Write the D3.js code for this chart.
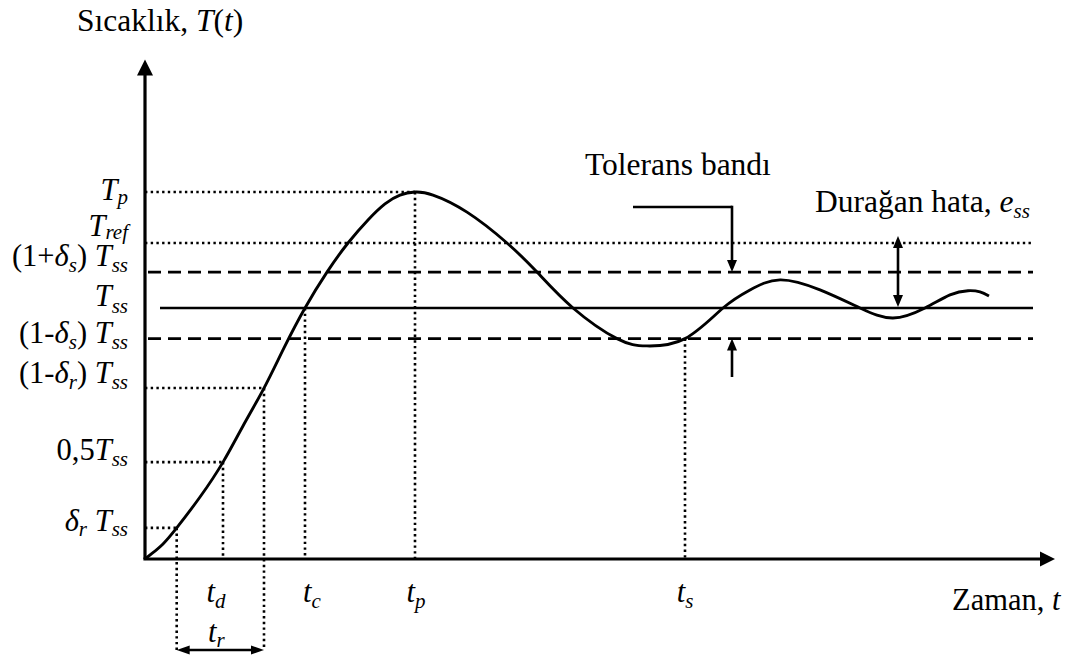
<!DOCTYPE html>
<html>
<head>
<meta charset="utf-8">
<script src="https://cdn.jsdelivr.net/npm/d3@7"></script>
<style>
  html, body { margin: 0; padding: 0; background: #fff; }
  svg { display: block; }
</style>
</head>
<body>
<svg id="chart" width="1079" height="662"></svg>
<script>
// Step response of a temperature control loop: time values (t) and temperature values (T, in units of Tss)

// characteristic levels on the temperature axis
const levelNames  = ["Tp", "Tref", "TssHigh", "Tss", "TssLow", "T90", "T50", "T10"];
const levelValues = [1.462, 1.259, 1.143, 1.0, 0.878, 0.681, 0.386, 0.124];

// characteristic instants on the time axis
const timeNames  = ["t10", "td", "t90", "tc", "tp", "ts"];
const timeValues = [0.317, 0.78, 1.19, 1.60, 2.70, 5.40];

// sampled response curve T(t)
const curveT    = [0, 0.07, 0.18, 0.317, 0.55, 0.78, 0.98, 1.19, 1.39, 1.60, 1.82, 2.03, 2.23, 2.40, 2.55, 2.70, 2.88, 3.22, 3.62, 3.92, 4.28, 4.72, 5.02, 5.40, 5.78, 6.05, 6.35, 6.75, 7.15, 7.48, 7.80, 8.05, 8.23, 8.35, 8.44];
const curveTemp = [0, 0.022, 0.060, 0.124, 0.247, 0.386, 0.530, 0.681, 0.841, 1.0, 1.143, 1.259, 1.351, 1.415, 1.450, 1.462, 1.450, 1.382, 1.259, 1.143, 1.0, 0.878, 0.849, 0.878, 1.0, 1.072, 1.112, 1.072, 1.0, 0.960, 1.0, 1.052, 1.069, 1.064, 1.048];

// axis extents and band end
const timeMax = 9.1, tempMax = 1.99, bandEnd = 8.88;

// tick label texts: [text, kind] with kind n = upright, i = italic, s = italic subscript
const levelLabels = [
  [["T","i"],["p","s"]],
  [["T","i"],["ref","s"]],
  [["(1+","n"],["δ","i"],["s","s"],[") ","n"],["T","i"],["ss","s"]],
  [["T","i"],["ss","s"]],
  [["(1-","n"],["δ","i"],["s","s"],[") ","n"],["T","i"],["ss","s"]],
  [["(1-","n"],["δ","i"],["r","s"],[") ","n"],["T","i"],["ss","s"]],
  [["0,5","n"],["T","i"],["ss","s"]],
  [["δ","i"],["r","s"],[" ","n"],["T","i"],["ss","s"]]
];
const timeLabels = [
  [["t","i"],["d","s"]],
  [["t","i"],["c","s"]],
  [["t","i"],["p","s"]],
  [["t","i"],["s","s"]]
];
const riseLabel = [["t","i"],["r","s"]];
const yTitle = [["Sıcaklık, ","n"],["T","i"],["(","n"],["t","i"],[")","n"]];
const xTitle = [["Zaman, ","n"],["t","i"]];
const bandTitle = [["Tolerans bandı","n"]];
const errTitle = [["Durağan hata, ","n"],["e","i"],["ss","s"]];

const L = Object.fromEntries(levelNames.map((n, i) => [n, levelValues[i]]));
const Tm = Object.fromEntries(timeNames.map((n, i) => [n, timeValues[i]]));

const svg = d3.select("#chart");
const x = d3.scaleLinear().domain([0, timeMax]).range([145, 1055]);
const y = d3.scaleLinear().domain([0, 2]).range([559, 57]);

const FONT = "'Liberation Serif', 'Times New Roman', serif";

function rich(sel, parts, fs, shift) {
  const sub = Math.round(fs * 0.68);
  parts.forEach(([txt, kind], i) => {
    const prevSub = i > 0 && parts[i - 1][1] === "s";
    const ts = sel.append("tspan").text(txt);
    if (kind !== "n") ts.attr("font-style", "italic");
    if (kind === "s") ts.attr("font-size", sub);
    if (kind === "s" && !prevSub) ts.attr("dy", shift);
    if (kind !== "s" && prevSub) ts.attr("dy", -shift);
  });
  return sel;
}
function label(parts, px, py, opt) {
  const o = Object.assign({ anchor: "start", fs: 30.5, shift: 6 }, opt || {});
  return rich(svg.append("text").attr("x", px).attr("y", py)
    .attr("font-family", FONT).attr("fill", "#000")
    .attr("font-size", o.fs).attr("text-anchor", o.anchor), parts, o.fs, o.shift);
}
function head(tx, ty, dir, len, half) {
  // dir: unit vector the arrow points along
  const [dx, dy] = dir, px = -dy, py = dx;
  const bx = tx - dx * len, by = ty - dy * len;
  svg.append("path")
    .attr("d", `M${tx},${ty}L${bx + px * half},${by + py * half}L${bx - px * half},${by - py * half}Z`)
    .attr("fill", "#000");
}
function seg(x1, y1, x2, y2, w, dash) {
  const s = svg.append("line").attr("x1", x1).attr("y1", y1).attr("x2", x2).attr("y2", y2)
    .attr("stroke", "#000").attr("stroke-width", w);
  if (dash) s.attr("stroke-dasharray", dash);
  return s;
}
const DOT = "2.4,3.3", DASH = "13,7";
const DW = 2.6;

// horizontal reference lines
seg(x(0), y(L.Tp), x(Tm.tp), y(L.Tp), DW, DOT);
seg(x(0), y(L.Tref), x(bandEnd), y(L.Tref), DW, DOT);
seg(x(0) + 3, y(L.TssHigh), x(bandEnd), y(L.TssHigh), 2.6, DASH);
seg(x(0.15), y(L.Tss), x(bandEnd), y(L.Tss), 2.4);
seg(x(0) + 3, y(L.TssLow), x(bandEnd), y(L.TssLow), 2.6, DASH);
seg(x(0), y(L.T90), x(Tm.t90), y(L.T90), DW, DOT);
seg(x(0), y(L.T50), x(Tm.td), y(L.T50), DW, DOT);
seg(x(0), y(L.T10), x(Tm.t10), y(L.T10), DW, DOT);

// vertical drop lines
const trY = 650;
seg(x(Tm.t10), y(L.T10), x(Tm.t10), trY, DW, DOT);
seg(x(Tm.t90), y(L.T90), x(Tm.t90), trY, DW, DOT);
seg(x(Tm.td), y(L.T50), x(Tm.td), y(0), DW, DOT);
seg(x(Tm.tc), y(L.Tss), x(Tm.tc), y(0), DW, DOT);
seg(x(Tm.tp), y(L.Tp), x(Tm.tp), y(0), DW, DOT);
seg(x(Tm.ts), y(L.TssLow), x(Tm.ts), y(0), DW, DOT);

// response curve
const pts = curveT.map((t, i) => [t, curveTemp[i]]);
svg.append("path")
  .attr("d", d3.line().x(d => x(d[0])).y(d => y(d[1])).curve(d3.curveNatural)(pts))
  .attr("fill", "none").attr("stroke", "#000").attr("stroke-width", 2.9);

// axes with arrowheads
seg(x(0), y(0), x(0), y(tempMax) + 14, 3.2);
head(x(0), y(tempMax), [0, -1], 16, 8);
seg(x(0) - 1.6, y(0), x(timeMax) - 14, y(0), 3.2);
head(x(timeMax), y(0), [1, 0], 15, 7.5);

// rise-time span arrow
seg(x(Tm.t10) + 6, trY, x(Tm.t90) - 6, trY, 2.6);
head(x(Tm.t10), trY, [-1, 0], 13, 4.5);
head(x(Tm.t90), trY, [1, 0], 13, 4.5);

// tolerance band pointers
const bandX = x(5.87), leaderY = 207;
seg(x(4.88), leaderY, bandX, leaderY, 2.6);
seg(bandX, leaderY - 1.3, bandX, y(L.TssHigh) - 10, 2.6);
head(bandX, y(L.TssHigh), [0, 1], 12, 5);
seg(bandX, 377, bandX, y(L.TssLow) + 10, 2.6);
head(bandX, y(L.TssLow), [0, -1], 12, 5);

// steady-state error arrow
const errX = x(7.53);
seg(errX, y(L.Tref) - 2, errX, y(L.Tss) - 10, 2.6);
head(errX, y(L.Tref) - 7, [0, -1], 12, 5);
head(errX, y(L.Tss) - 1, [0, 1], 12, 5);

// level labels on the temperature axis
const levelNudge = [7.5, -7, -6, -2, 4.5, -5, -2, 3.5];
const levelShift = [4, 3, 6, 7, 6, 6, 6, 5];
levelLabels.forEach((parts, i) =>
  label(parts, 128, y(levelValues[i]) + levelNudge[i], { anchor: "end", shift: levelShift[i] }));

// instant labels on the time axis
const shownTimes = [Tm.td, Tm.tc, Tm.tp, Tm.ts];
const timeNudge = [-7, 7, 1, 0];
timeLabels.forEach((parts, i) =>
  label(parts, x(shownTimes[i]) + timeNudge[i], 602, { anchor: "middle" }));
label(riseLabel, (x(Tm.t10) + x(Tm.t90)) / 2 - 4, 642, { anchor: "middle", shift: 5 });

// titles and annotations
label(yTitle, 77, 31, { fs: 31.5 });
label(xTitle, 952, 610, { fs: 30.5 });
label(bandTitle, 585, 175, { fs: 31.5 });
label(errTitle, 815, 212, { fs: 31.5 });
</script>
</body>
</html>
